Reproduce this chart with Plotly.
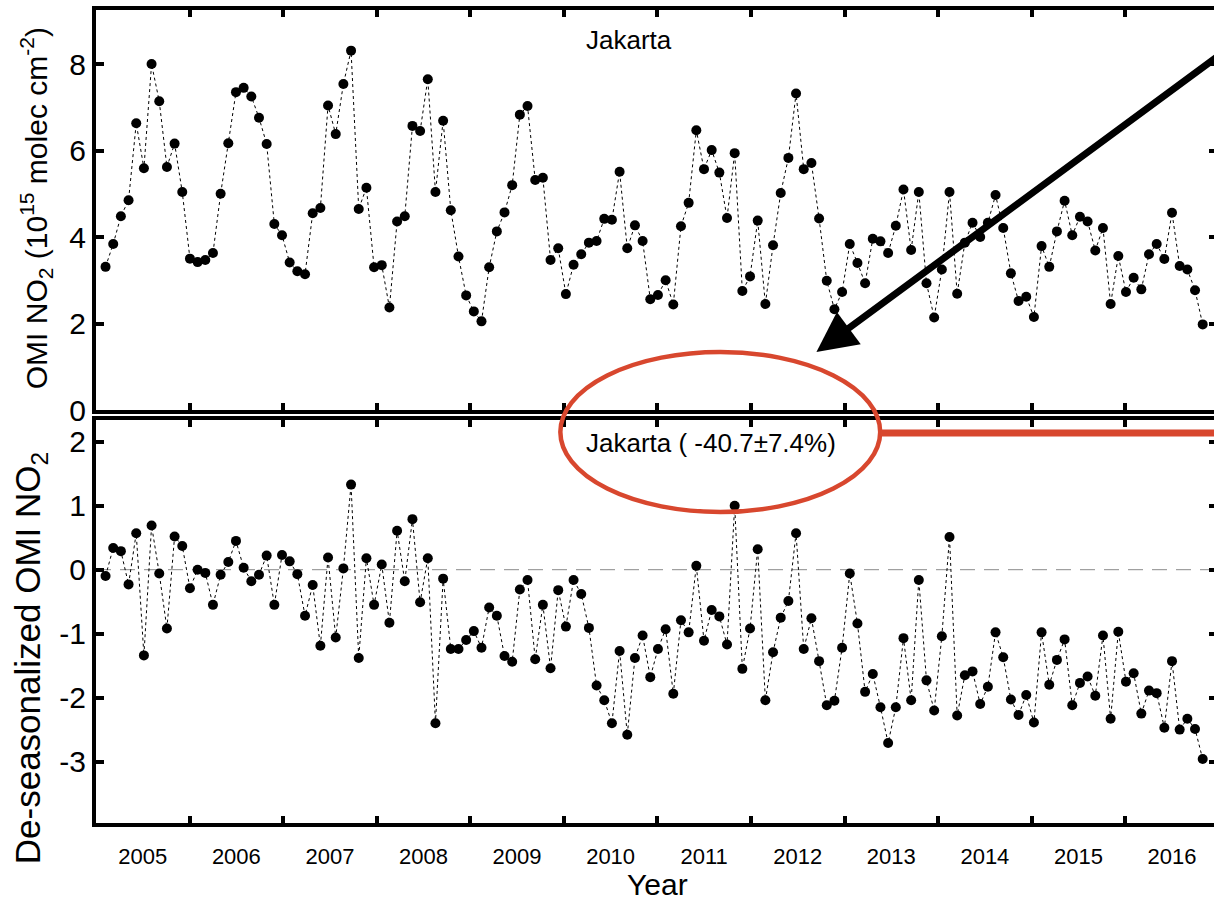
import plotly.graph_objects as go

# ---------------- data ----------------
n_points = 144
start_year = 2005.102          # first sample (decimal year)
step_years = 0.082             # ~30-day sampling step
dec_year = [start_year + i * step_years for i in range(n_points)]

omi_no2 = [
    3.31, 3.84, 4.48, 4.85, 6.63, 5.59, 8.00, 7.14, 5.62, 6.16,
    5.04, 3.50, 3.42, 3.47, 3.63, 5.00, 6.17, 7.35, 7.45, 7.25,
    6.76, 6.15, 4.30, 4.04, 3.41, 3.21, 3.14, 4.55, 4.67, 7.04,
    6.38, 7.54, 8.31, 4.65, 5.14, 3.30, 3.35, 2.37, 4.36, 4.48,
    6.57, 6.45, 7.65, 5.04, 6.69, 4.62, 3.55, 2.65, 2.28, 2.05,
    3.30, 4.13, 4.57, 5.20, 6.83, 7.03, 5.32, 5.37, 3.47, 3.74,
    2.68, 3.36, 3.60, 3.87, 3.91, 4.42, 4.40, 5.51, 3.74, 4.27,
    3.91, 2.56, 2.66, 3.00, 2.44, 4.25, 4.79, 6.47, 5.57, 6.01,
    5.49, 4.44, 5.94, 2.75, 3.09, 4.38, 2.45, 3.81, 5.02, 5.83,
    7.32, 5.57, 5.71, 4.43, 2.99, 2.33, 2.73, 3.84, 3.40, 2.93,
    3.96, 3.90, 3.63, 4.26, 5.10, 3.70, 5.04, 2.93, 2.14, 3.25,
    5.04, 2.69, 3.87, 4.33, 4.00, 4.33, 4.97, 4.21, 3.16, 2.52,
    2.62, 2.15, 3.79, 3.31, 4.13, 4.84, 4.04, 4.47, 4.36, 3.69,
    4.21, 2.45, 3.56, 2.73, 3.06, 2.79, 3.60, 3.84, 3.49, 4.56,
    3.33, 3.25, 2.77, 1.98,
]

deseasonalized = [
    -0.10, 0.34, 0.29, -0.23, 0.57, -1.34, 0.69, -0.06, -0.92, 0.52,
    0.37, -0.29, 0.00, -0.05, -0.55, -0.08, 0.12, 0.45, 0.03, -0.18,
    -0.08, 0.22, -0.55, 0.23, 0.13, -0.07, -0.72, -0.24, -1.19, 0.19,
    -1.06, 0.02, 1.33, -1.38, 0.18, -0.55, 0.08, -0.83, 0.61, -0.18,
    0.79, -0.51, 0.18, -2.40, -0.14, -1.24, -1.24, -1.10, -0.96, -1.22,
    -0.59, -0.72, -1.35, -1.44, -0.31, -0.16, -1.40, -0.55, -1.54, -0.32,
    -0.89, -0.16, -0.38, -0.91, -1.81, -2.04, -2.40, -1.27, -2.58, -1.38,
    -1.03, -1.68, -1.24, -0.93, -1.94, -0.79, -0.98, 0.06, -1.11, -0.63,
    -0.73, -1.17, 1.00, -1.55, -0.92, 0.32, -2.04, -1.29, -0.75, -0.49,
    0.57, -1.24, -0.76, -1.43, -2.12, -2.05, -1.22, -0.06, -0.84, -1.91,
    -1.63, -2.15, -2.71, -2.15, -1.07, -2.04, -0.16, -1.73, -2.20, -1.04,
    0.51, -2.28, -1.65, -1.59, -2.10, -1.83, -0.98, -1.37, -2.03, -2.27,
    -1.96, -2.39, -0.98, -1.80, -1.41, -1.09, -2.12, -1.77, -1.67, -1.97,
    -1.03, -2.33, -0.97, -1.75, -1.62, -2.25, -1.89, -1.93, -2.47, -1.43,
    -2.50, -2.33, -2.49, -2.96,
]

year_labels = [str(y) for y in range(2005, 2017)]
year_label_pos = [y + 0.5 for y in range(2005, 2017)]
year_bounds = list(range(2006, 2017))
top_yticks = [0, 2, 4, 6, 8]
top_yticktext = ["0", "2", "4", "6", "8"]
bottom_yticks = [-3, -2, -1, 0, 1, 2]
bottom_yticktext = ["-3", "-2", "-1", "0", "1", "2"]

city = "Jakarta"
trend_text = "Jakarta ( -40.7\u00b17.4%)"

# ---------------- layout geometry ----------------
W, H = 1221, 901
ML, MR, MT, MB = 96, 0, 10, 78
PW = W - ML - MR
PH = H - MT - MB


def px_x(p):
    return (p - ML) / PW


def px_y(p):
    return (H - MB - p) / PH


PX_PER_YEAR = 93.9
x_range = [2005, 2005 + PW / PX_PER_YEAR]

RED = "#d8472e"
SANS = "Liberation Sans, Arial, Helvetica, sans-serif"

fig = go.Figure()

marker = dict(color="black", size=10)
line = dict(color="black", width=1, dash="3px,3px")

fig.add_trace(go.Scatter(x=dec_year, y=omi_no2, mode="lines+markers",
                         marker=marker, line=line, xaxis="x", yaxis="y",
                         showlegend=False, hoverinfo="skip"))
fig.add_trace(go.Scatter(x=dec_year, y=deseasonalized, mode="lines+markers",
                         marker=marker, line=line, xaxis="x2", yaxis="y2",
                         showlegend=False, hoverinfo="skip"))

common_x = dict(
    range=x_range, showline=True, linewidth=4, linecolor="black",
    mirror="ticks", showgrid=False, zeroline=False,
    tickmode="array", tickvals=year_label_pos, ticktext=year_labels,
    ticks="",
    minor=dict(tickmode="array", tickvals=year_bounds, ticks="inside",
               ticklen=7, tickwidth=4, tickcolor="black", showgrid=False),
)
common_y = dict(
    showline=True, linewidth=4, linecolor="black", mirror="ticks",
    showgrid=False, zeroline=False, ticks="inside", ticklen=8,
    tickwidth=4, tickcolor="black", tickmode="array",
    tickfont=dict(family=SANS, size=30, color="black"),
)

fig.update_layout(
    width=W, height=H,
    margin=dict(l=ML, r=MR, t=MT, b=MB),
    paper_bgcolor="white", plot_bgcolor="white",
    xaxis=dict(common_x, domain=[0, 1], anchor="y", showticklabels=False),
    yaxis=dict(common_y, domain=[px_y(410), px_y(10)], anchor="x",
               range=[0, 9.25], tickvals=top_yticks, ticktext=top_yticktext),
    xaxis2=dict(common_x, domain=[0, 1], anchor="y2", matches="x",
                showticklabels=True, ticklabelstandoff=11,
                tickfont=dict(family=SANS, size=22, color="black")),
    yaxis2=dict(common_y, domain=[0, px_y(420)], anchor="x2",
                range=[-3.96, 2.34], tickvals=bottom_yticks,
                ticktext=bottom_yticktext),
)

# zero reference line in the bottom panel
fig.add_shape(type="line", xref="x2 domain", yref="y2", x0=0, x1=1, y0=0, y1=0,
              line=dict(color="#8a8a8a", width=1, dash="15px,9px"), layer="below")

# text labels
fig.add_annotation(text=city, xref="paper", yref="paper", x=px_x(586), y=px_y(40),
                   xanchor="left", yanchor="middle", showarrow=False,
                   font=dict(family=SANS, size=26, color="black"))
fig.add_annotation(text=trend_text, xref="paper", yref="paper", x=px_x(586), y=px_y(443),
                   xanchor="left", yanchor="middle", showarrow=False,
                   font=dict(family=SANS, size=26, color="black"))
fig.add_annotation(text="OMI NO<sub>2</sub> (10<sup>15</sup> molec cm<sup>-2</sup>)",
                   xref="paper", yref="paper", x=px_x(36), y=px_y(208),
                   xanchor="center", yanchor="middle", textangle=-90, showarrow=False,
                   font=dict(family=SANS, size=30, color="black"))
fig.add_annotation(text="De-seasonalized OMI NO<sub>2</sub>",
                   xref="paper", yref="paper", x=px_x(30), y=px_y(658),
                   xanchor="center", yanchor="middle", textangle=-90, showarrow=False,
                   font=dict(family=SANS, size=35, color="black"))
fig.add_annotation(text="Year", xref="paper", yref="paper", x=px_x(660), y=px_y(884),
                   xanchor="center", yanchor="middle", showarrow=False,
                   font=dict(family=SANS, size=30, color="black"))

# highlight: black arrow, red ellipse and red connector line
fig.add_annotation(text="", xref="paper", yref="paper", x=px_x(819), y=px_y(352),
                   ax=411, ay=-298, showarrow=True, arrowhead=2, arrowsize=1.15,
                   arrowwidth=7, arrowcolor="black", standoff=0)
fig.add_shape(type="circle", xref="paper", yref="paper",
              x0=px_x(562), x1=px_x(883), y0=px_y(512), y1=px_y(352),
              line=dict(color=RED, width=4.5))
fig.add_shape(type="line", xref="paper", yref="paper",
              x0=px_x(883), x1=px_x(W), y0=px_y(433), y1=px_y(433),
              line=dict(color=RED, width=7))

fig.write_html("out.html",
               config={"displayModeBar": False},
               post_script="document.body.style.margin='0';document.body.style.overflow='hidden';")
